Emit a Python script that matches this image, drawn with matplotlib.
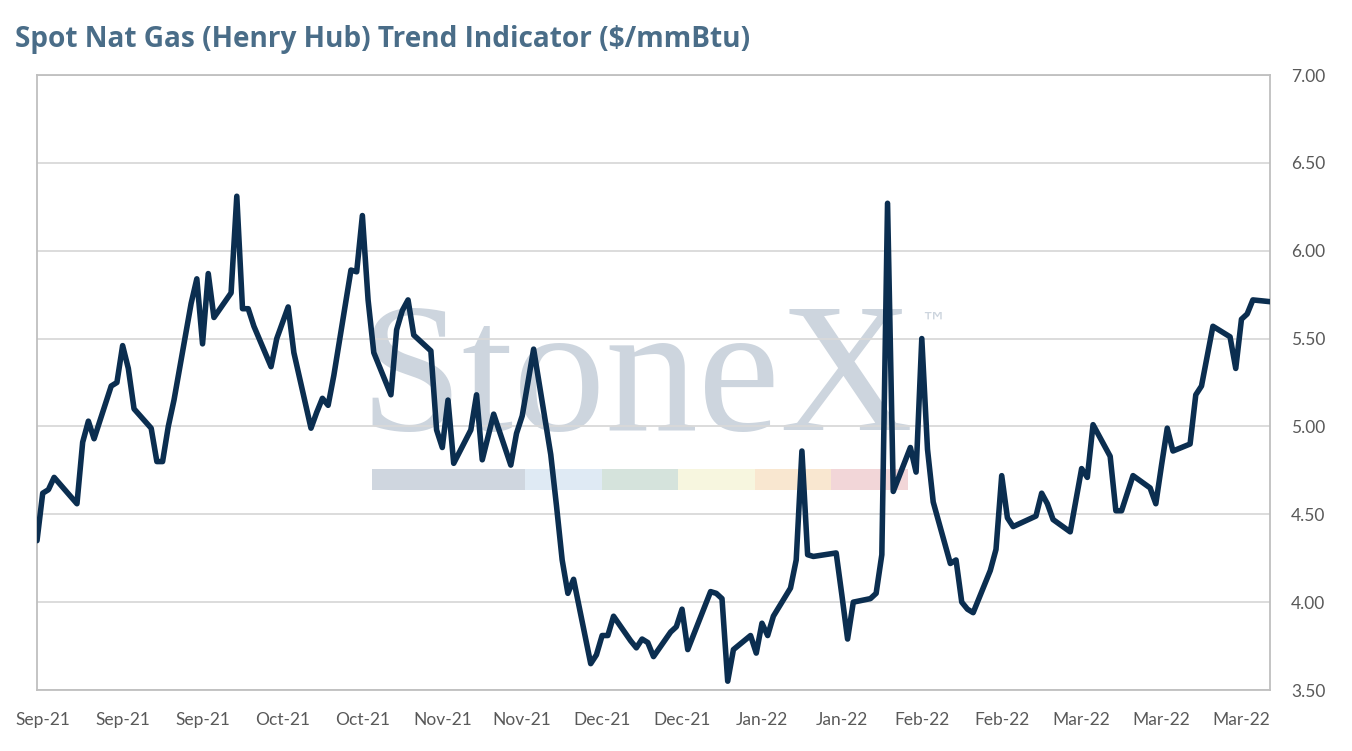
import matplotlib
matplotlib.use('Agg')
import matplotlib.pyplot as plt
import matplotlib.dates as mdates
import matplotlib.patches as mpatches
import pandas as pd

# ── DATA ─────────────────────────────────────
dates = [
    "2021-08-31", "2021-09-01", "2021-09-02", "2021-09-03", "2021-09-07", "2021-09-08",
    "2021-09-09", "2021-09-10", "2021-09-13", "2021-09-14", "2021-09-15", "2021-09-16",
    "2021-09-17", "2021-09-20", "2021-09-21", "2021-09-22", "2021-09-23", "2021-09-24",
    "2021-09-27", "2021-09-28", "2021-09-29", "2021-09-30", "2021-10-01", "2021-10-04",
    "2021-10-05", "2021-10-06", "2021-10-07", "2021-10-08", "2021-10-11", "2021-10-12",
    "2021-10-13", "2021-10-14", "2021-10-15", "2021-10-18", "2021-10-19", "2021-10-20",
    "2021-10-21", "2021-10-22", "2021-10-25", "2021-10-26", "2021-10-27", "2021-10-28",
    "2021-10-29", "2021-11-01", "2021-11-02", "2021-11-03", "2021-11-04", "2021-11-05",
    "2021-11-08", "2021-11-09", "2021-11-10", "2021-11-11", "2021-11-12", "2021-11-15",
    "2021-11-16", "2021-11-17", "2021-11-18", "2021-11-19", "2021-11-22", "2021-11-23",
    "2021-11-24", "2021-11-26", "2021-11-29", "2021-11-30", "2021-12-01", "2021-12-02",
    "2021-12-03", "2021-12-06", "2021-12-07", "2021-12-08", "2021-12-09", "2021-12-10",
    "2021-12-13", "2021-12-14", "2021-12-15", "2021-12-16", "2021-12-17", "2021-12-20",
    "2021-12-21", "2021-12-22", "2021-12-23", "2021-12-27", "2021-12-28", "2021-12-29",
    "2021-12-30", "2021-12-31", "2022-01-03", "2022-01-04", "2022-01-05", "2022-01-06",
    "2022-01-07", "2022-01-10", "2022-01-11", "2022-01-12", "2022-01-13", "2022-01-14",
    "2022-01-18", "2022-01-19", "2022-01-20", "2022-01-21", "2022-01-24", "2022-01-25",
    "2022-01-26", "2022-01-27", "2022-01-28", "2022-01-31", "2022-02-01", "2022-02-02",
    "2022-02-03", "2022-02-04", "2022-02-07", "2022-02-08", "2022-02-09", "2022-02-10",
    "2022-02-11", "2022-02-14", "2022-02-15", "2022-02-16", "2022-02-17", "2022-02-18",
    "2022-02-22", "2022-02-23", "2022-02-24", "2022-02-25", "2022-02-28", "2022-03-01",
    "2022-03-02", "2022-03-03", "2022-03-04", "2022-03-07", "2022-03-08", "2022-03-09",
    "2022-03-10", "2022-03-11", "2022-03-14", "2022-03-15", "2022-03-16", "2022-03-17",
    "2022-03-18", "2022-03-21", "2022-03-22", "2022-03-23", "2022-03-24", "2022-03-25",
    "2022-03-28", "2022-03-29", "2022-03-30", "2022-03-31", "2022-04-01", "2022-04-04",
]

prices = [
    4.35, 4.62, 4.64, 4.71, 4.56, 4.91,
    5.03, 4.93, 5.23, 5.25, 5.46, 5.33,
    5.10, 4.99, 4.80, 4.80, 5.00, 5.15,
    5.70, 5.84, 5.47, 5.87, 5.62, 5.76,
    6.31, 5.67, 5.67, 5.57, 5.34, 5.50,
    5.59, 5.68, 5.42, 4.99, 5.08, 5.16,
    5.12, 5.29, 5.89, 5.88, 6.20, 5.72,
    5.42, 5.18, 5.55, 5.66, 5.72, 5.52,
    5.43, 4.98, 4.88, 5.15, 4.79, 4.98,
    5.18, 4.81, 4.94, 5.07, 4.78, 4.96,
    5.06, 5.44, 4.84, 4.55, 4.24, 4.05,
    4.13, 3.65, 3.70, 3.81, 3.81, 3.92,
    3.78, 3.74, 3.79, 3.77, 3.69, 3.83,
    3.86, 3.96, 3.73, 4.06, 4.05, 4.02,
    3.55, 3.73, 3.81, 3.71, 3.88, 3.81,
    3.92, 4.08, 4.24, 4.86, 4.27, 4.26,
    4.28, 4.04, 3.79, 4.00, 4.02, 4.05,
    4.27, 6.27, 4.63, 4.88, 4.74, 5.50,
    4.87, 4.57, 4.22, 4.24, 4.00, 3.96,
    3.94, 4.18, 4.30, 4.72, 4.48, 4.43,
    4.49, 4.62, 4.56, 4.47, 4.40, 4.58,
    4.76, 4.71, 5.01, 4.83, 4.52, 4.52,
    4.62, 4.72, 4.65, 4.56, 4.78, 4.99,
    4.86, 4.90, 5.18, 5.23, 5.40, 5.57,
    5.51, 5.33, 5.61, 5.64, 5.72, 5.71,
]

y_ticks = [3.5, 4.0, 4.5, 5.0, 5.5, 6.0, 6.5, 7.0]

# watermark colour bar (gray segment is double width)
bar_colours = ["#cfd6df", "#cfd6df", "#dfeaf4", "#d5e3dc", "#f7f6df", "#f9e7d0", "#f2d6d8"]

# ── COLOURS ─────────────────────────────────────
LINE = "#0b2e50"
TITLE = "#4a6d88"
TICK = "#595959"
GRID = "#d9d9d9"
BORDER = "#bfbfbf"
WMARK = "#cdd5de"

x = pd.to_datetime(dates)

fig = plt.figure(figsize=(13.52, 7.51), dpi=100)
fig.patch.set_facecolor('white')
ax = fig.add_axes([37 / 1352, 1 - 690 / 751, 1233 / 1352, 615 / 751])

ax.plot(x, prices, color=LINE, linewidth=4.0, solid_joinstyle='round',
        solid_capstyle='round', zorder=3)

# axes limits & ticks
ax.set_xlim(x[0], x[-1])
ax.set_ylim(3.5, 7.0)
ax.set_yticks(y_ticks)
ax.set_yticklabels([f"{v:.2f}" for v in y_ticks])
ax.yaxis.tick_right()

tick_dates = pd.date_range("2021-09-01", "2022-03-31", freq="14D")
ax.set_xticks(tick_dates)
ax.xaxis.set_major_formatter(mdates.DateFormatter("%b-%y"))

ax.tick_params(axis='both', length=0, colors=TICK, labelsize=12.5)
ax.tick_params(axis='y', pad=15)
ax.tick_params(axis='x', pad=16)
for lbl in ax.get_xticklabels() + ax.get_yticklabels():
    lbl.set_fontfamily('Lato')

ax.set_axisbelow(True)
ax.grid(axis='y', color=GRID, linewidth=1.3)
for spine in ax.spines.values():
    spine.set_color(BORDER)
    spine.set_linewidth(1.3)

# ── WATERMARK ─────────────────────────────────────
ax.text(0.262, 0.4228, "StoneX", transform=ax.transAxes, ha='left', va='baseline',
        fontsize=133, family='Liberation Serif', color=WMARK, zorder=0.2)
ax.text(0.716, 0.585, "™", transform=ax.transAxes, ha='left', va='baseline',
        fontsize=19, family='DejaVu Sans', color=WMARK, zorder=0.2)

seg_w = 76.5 / 1233
x0 = 0.2717
for col in bar_colours:
    ax.add_patch(mpatches.Rectangle((x0, 0.3252), seg_w, 0.0341, transform=ax.transAxes,
                                    facecolor=col, edgecolor='none', zorder=0.2))
    x0 += seg_w

fig.text(15 / 1352, 1 - 40 / 751, "Spot Nat Gas (Henry Hub) Trend Indicator ($/mmBtu)",
         ha='left', va='center', fontsize=20.2, fontweight='bold', family='Open Sans',
         color=TITLE)

fig.savefig("out.png", dpi=100, facecolor='white')
